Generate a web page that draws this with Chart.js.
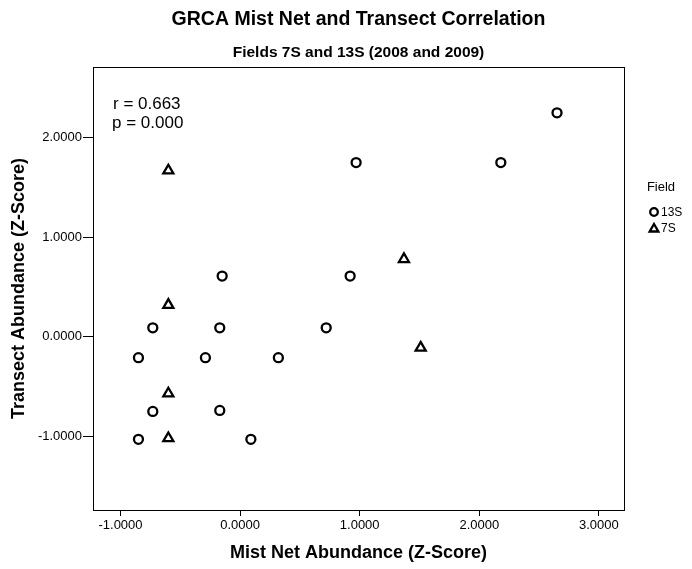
<!DOCTYPE html>
<html>
<head>
<meta charset="utf-8">
<title>GRCA Mist Net and Transect Correlation</title>
<script src="https://cdn.jsdelivr.net/npm/chart.js@4"></script>
<style>
  html, body { margin: 0; padding: 0; background: #fff; }
  #wrap { width: 692px; height: 569px; }
</style>
</head>
<body>
<div id="wrap"><canvas id="scatter"></canvas></div>
<script>
// Data (Z-scores)
const field13S_x = [2.65, 0.97, 2.18, -0.15, 0.92, -0.73, -0.17, 0.72, -0.85, -0.29, 0.32, -0.73, -0.17, -0.85, 0.09];
const field13S_y = [2.25, 1.75, 1.75, 0.61, 0.61, 0.09, 0.09, 0.09, -0.21, -0.21, -0.21, -0.75, -0.74, -1.03, -1.03];
const field7S_x = [-0.60, -0.60, -0.60, -0.60, 1.37, 1.51];
const field7S_y = [1.67, 0.32, -0.57, -1.02, 0.78, -0.11];

const xTicks = [-1, 0, 1, 2, 3];
const yTicks = [-1, 0, 1, 2];
const fieldNames = ['13S', '7S'];

const FONT = '"Liberation Sans", Arial, sans-serif';

function toPoints(xs, ys) {
    return xs.map((x, i) => ({ x: x, y: ys[i] }));
}

// Full box around the plot area (top and right sides too)
const frameBox = {
    id: 'frameBox',
    afterDraw(chart) {
        const a = chart.chartArea;
        const ctx = chart.ctx;
        ctx.save();
        ctx.strokeStyle = '#000';
        ctx.lineWidth = 1;
        ctx.strokeRect(Math.round(a.left) + 0.5, Math.round(a.top) + 0.5,
            Math.round(a.right - a.left), Math.round(a.bottom - a.top));
        ctx.restore();
    }
};

// r / p text and the "Field" legend
const notes = {
    id: 'notes',
    afterDraw(chart) {
        const ctx = chart.ctx;
        ctx.save();
        ctx.fillStyle = '#000';
        ctx.font = '17px ' + FONT;
        ctx.textAlign = 'left';
        ctx.textBaseline = 'middle';
        ctx.fillText('r = 0.663', 113, 104);
        ctx.fillText('p = 0.000', 112, 123);

        ctx.font = '13px ' + FONT;
        ctx.textAlign = 'center';
        ctx.fillText('Field', 661, 187);

        ctx.font = '12px ' + FONT;
        ctx.textAlign = 'left';
        chart.data.datasets.forEach((ds, i) => {
            const y = 212 + i * 16;
            const tri = ds.pointStyle === 'triangle';
            ctx.strokeStyle = '#000';
            ctx.lineWidth = 2.3;
            ctx.fillStyle = 'rgba(0,0,0,0)';
            Chart.helpers.drawPoint(ctx, {
                pointStyle: ds.pointStyle,
                radius: tri ? 5 : 3.8,
                borderWidth: 2.3
            }, 654, tri ? y + 1 : y);
            ctx.fillStyle = '#000';
            ctx.fillText(fieldNames[i], 661, y + 1);
        });
        ctx.restore();
    }
};

const ctx = document.getElementById('scatter').getContext('2d');

const chart = new Chart(ctx, {
    type: 'scatter',
    data: {
        datasets: [
            {
                label: fieldNames[0],
                data: toPoints(field13S_x, field13S_y),
                pointStyle: 'circle',
                pointRadius: 4.5,
                pointBorderWidth: 2.3,
                borderColor: '#000',
                backgroundColor: 'rgba(0,0,0,0)'
            },
            {
                label: fieldNames[1],
                data: toPoints(field7S_x, field7S_y),
                pointStyle: 'triangle',
                pointRadius: 5.8,
                pointBorderWidth: 2.3,
                borderColor: '#000',
                backgroundColor: 'rgba(0,0,0,0)'
            }
        ]
    },
    options: {
        responsive: true,
        maintainAspectRatio: false,
        animation: false,
        layout: { padding: { left: 0, right: 68, top: 0, bottom: 0 } },
        plugins: {
            legend: { display: false },
            tooltip: { enabled: false },
            title: {
                display: true,
                fullSize: false,
                text: 'GRCA Mist Net and Transect Correlation',
                color: '#000',
                font: { family: FONT, size: 19.5, weight: 'bold' },
                padding: { top: 8, bottom: 12 }
            },
            subtitle: {
                display: true,
                fullSize: false,
                text: 'Fields 7S and 13S (2008 and 2009)',
                color: '#000',
                font: { family: FONT, size: 15.5, weight: 'bold' },
                padding: { top: 0, bottom: 5 }
            }
        },
        scales: {
            x: {
                type: 'linear',
                min: -1.23,
                max: 3.21,
                afterBuildTicks: s => { s.ticks = xTicks.map(v => ({ value: v })); },
                afterFit: s => { s.height = 59; },
                grid: { drawOnChartArea: false, drawTicks: true, tickLength: 6, color: '#000' },
                border: { display: true, color: '#000' },
                ticks: {
                    color: '#000',
                    padding: 2,
                    font: { family: FONT, size: 13 },
                    callback: v => v.toFixed(4)
                },
                title: {
                    display: true,
                    text: 'Mist Net Abundance (Z-Score)',
                    color: '#000',
                    font: { family: FONT, size: 18, weight: 'bold' },
                    padding: { top: 0, bottom: 5.5 }
                }
            },
            y: {
                type: 'linear',
                min: -1.74,
                max: 2.71,
                afterBuildTicks: s => { s.ticks = yTicks.map(v => ({ value: v })); },
                afterFit: s => { s.width = 93; },
                grid: { drawOnChartArea: false, drawTicks: true, tickLength: 10, color: '#000' },
                border: { display: true, color: '#000' },
                ticks: {
                    color: '#000',
                    padding: 1,
                    font: { family: FONT, size: 13 },
                    callback: v => v.toFixed(4)
                },
                title: {
                    display: true,
                    text: 'Transect Abundance (Z-Score)',
                    color: '#000',
                    font: { family: FONT, size: 18, weight: 'bold' },
                    padding: { top: 8, bottom: 0 }
                }
            }
        }
    },
    plugins: [frameBox, notes]
});
</script>
</body>
</html>
